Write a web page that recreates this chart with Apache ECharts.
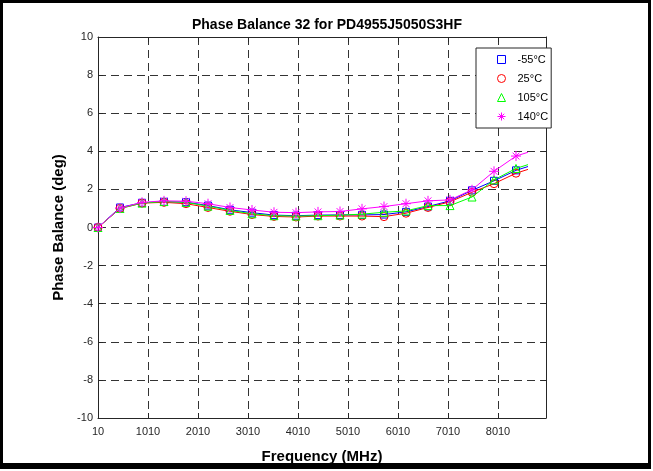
<!DOCTYPE html>
<html>
<head>
<meta charset="utf-8">
<script src="https://cdn.jsdelivr.net/npm/echarts@6/dist/echarts.min.js"></script>
<style>
  html, body { margin: 0; padding: 0; background: #fff; }
  #chart { width: 653px; height: 471px; }
</style>
</head>
<body>
<div id="chart"></div>
<script>
// Sweep frequencies (MHz); markers sit on every sampled point except the sweep end.
const freqMHz = [10, 450, 890, 1330, 1770, 2210, 2650, 3090, 3530, 3970, 4410,
                 4850, 5290, 5730, 6170, 6610, 7050, 7490, 7930, 8370, 8610];

// Phase balance (deg) per temperature
const phaseM55 = [0, 1.05, 1.30, 1.35, 1.33, 1.15, 0.93, 0.78, 0.65, 0.62, 0.65,
                  0.66, 0.66, 0.68, 0.82, 1.10, 1.40, 1.95, 2.45, 3.00, 3.20];
const phase25  = [0, 1.00, 1.28, 1.32, 1.25, 1.05, 0.85, 0.68, 0.58, 0.55, 0.60,
                  0.60, 0.60, 0.57, 0.75, 1.05, 1.35, 1.85, 2.30, 2.85, 3.05];
const phase105 = [0, 1.00, 1.28, 1.36, 1.32, 1.12, 0.90, 0.72, 0.62, 0.60, 0.62,
                  0.65, 0.70, 0.80, 0.87, 1.15, 1.15, 1.60, 2.50, 3.10, 3.30];
const phase140 = [0, 1.02, 1.32, 1.40, 1.38, 1.25, 1.05, 0.92, 0.80, 0.78, 0.82,
                  0.84, 0.98, 1.10, 1.25, 1.40, 1.45, 1.98, 2.95, 3.75, 3.95];

const seriesNames = ['-55°C', '25°C', '105°C', '140°C'];
const seriesColors = ['#0000ff', '#ff0000', '#00ff00', '#ff00ff'];
const xTickLabels = ['10', '1010', '2010', '3010', '4010', '5010', '6010', '7010', '8010'];
const yTicks = [-10, -8, -6, -4, -2, 0, 2, 4, 6, 8, 10];

const FONT = '"Liberation Sans", Arial, Helvetica, sans-serif';
const INK = '#262626';

// asterisk drawn as + and x strokes
const ASTERISK = 'path://M5,0L5,10M0,5L10,5M1.6,1.6L8.4,8.4M1.6,8.4L8.4,1.6';
const symbols = ['rect', 'circle', 'triangle', ASTERISK];
const symbolSizes = [7, 8, 8, 10];

const allSeries = [phaseM55, phase25, phase105, phase140];

const X_MIN = 10, X_MAX = 8970;

const chart = echarts.init(document.getElementById('chart'), null, { renderer: 'canvas' });

function xLabel(v) {
  const i = xTickLabels.indexOf(String(Math.round(v)));
  return i >= 0 ? xTickLabels[i] : '';
}

const gridLine = { show: true, lineStyle: { color: '#333', type: [8, 5], width: 1 } };
const frameLine = { show: true, onZero: false, lineStyle: { color: INK, width: 1 } };
const innerTick = { show: true, inside: true, length: 5, lineStyle: { color: INK } };

const option = {
  animation: false,
  backgroundColor: '#fff',
  title: {
    text: 'Phase Balance 32 for PD4955J5050S3HF',
    left: 322,
    top: 13,
    textAlign: 'center',
    textStyle: { fontFamily: FONT, fontSize: 14, fontWeight: 'bold', color: '#000' }
  },
  legend: {
    orient: 'vertical',
    left: 476,
    top: 48,
    backgroundColor: '#fff',
    borderColor: INK,
    borderWidth: 1,
    borderRadius: 0,
    padding: [6, 3, 6, 21],
    itemGap: 8,
    itemWidth: 8,
    itemHeight: 8,
    textStyle: { fontFamily: FONT, fontSize: 11, color: '#000', padding: [0, 0, 0, 7] },
    data: seriesNames.map((n, i) => ({
      name: n,
      icon: symbols[i],
      itemStyle: { color: 'rgba(0,0,0,0)', borderColor: seriesColors[i], borderWidth: 1 }
    }))
  },
  grid: { left: 98, right: 107, top: 37, bottom: 53, containLabel: false },
  xAxis: [
    {
      type: 'value', min: X_MIN, max: X_MAX, interval: 1000,
      name: 'Frequency (MHz)', nameLocation: 'middle', nameGap: 31,
      nameTextStyle: { fontFamily: FONT, fontSize: 15, fontWeight: 'bold', color: '#000' },
      axisLine: frameLine,
      axisTick: innerTick,
      axisLabel: { fontFamily: FONT, fontSize: 11, color: INK, margin: 8,
                   formatter: xLabel, showMaxLabel: false },
      splitLine: gridLine
    },
    {
      type: 'value', min: X_MIN, max: X_MAX, interval: 1000, position: 'top',
      axisLine: frameLine,
      axisTick: innerTick,
      axisLabel: { show: false },
      splitLine: { show: false }
    }
  ],
  yAxis: [
    {
      type: 'value', min: yTicks[0], max: yTicks[yTicks.length - 1], interval: 2,
      name: 'Phase Balance (deg)', nameLocation: 'middle', nameGap: 31, nameRotate: 90,
      nameTextStyle: { fontFamily: FONT, fontSize: 15, fontWeight: 'bold', color: '#000' },
      axisLine: frameLine,
      axisTick: innerTick,
      axisLabel: { fontFamily: FONT, fontSize: 11, color: INK, margin: 5 },
      splitLine: gridLine
    },
    {
      type: 'value', min: yTicks[0], max: yTicks[yTicks.length - 1], interval: 2, position: 'right',
      axisLine: frameLine,
      axisTick: innerTick,
      axisLabel: { show: false },
      splitLine: { show: false }
    }
  ],
  series: allSeries.map((vals, s) => ({
    name: seriesNames[s],
    type: 'line',
    xAxisIndex: 0,
    yAxisIndex: 0,
    showAllSymbol: true,
    symbol: symbols[s],
    symbolSize: symbolSizes[s],
    itemStyle: { color: 'rgba(0,0,0,0)', borderColor: seriesColors[s], borderWidth: 1 },
    lineStyle: { color: seriesColors[s], width: 1 },
    emphasis: { disabled: true },
    z: 2 + s,
    data: vals.map((v, i) => i === vals.length - 1
      ? { value: [freqMHz[i], v], symbol: 'none' }
      : [freqMHz[i], v])
  })),
  graphic: [
    {
      type: 'rect',
      silent: true,
      z: 100,
      shape: { x: 1.5, y: 1.5, width: 648, height: 464 },
      style: { fill: 'none', stroke: '#000', lineWidth: 3 }
    },
    {
      type: 'rect',
      silent: true,
      z: 100,
      shape: { x: 0, y: 463, width: 651, height: 6 },
      style: { fill: '#000' }
    }
  ]
};

chart.setOption(option);
</script>
</body>
</html>
